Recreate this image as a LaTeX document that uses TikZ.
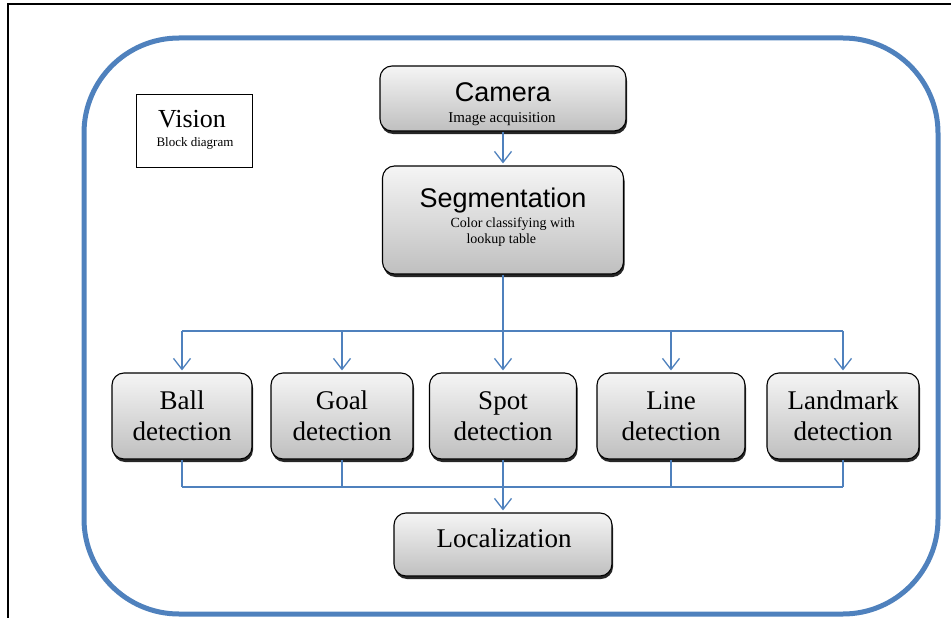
\documentclass[tikz,border=0pt]{standalone}
\usepackage{fontspec}
\setmainfont{Liberation Serif}
\newfontfamily\headfont{Liberation Sans}
\usetikzlibrary{arrows.meta,shadows}
\definecolor{frameblue}{RGB}{79,129,189}

\begin{document}
\begin{tikzpicture}[x=1pt,y=-1pt,
    block/.style ={rectangle, draw, line width=1.1pt, rounded corners=12pt, top color=gray!8, bottom color=gray!50,
      drop shadow={shadow xshift=1pt,shadow yshift=-3pt,fill=black,opacity=0.85},
      inner sep=0pt, align=center, font=\fontsize{27}{31}\selectfont},
    link/.style ={frameblue, line width=1.3pt},
    arr/.style ={link, shorten >=2pt, -{Straight Barb[length=11pt,width=17pt]}}]
   \useasboundingbox (0,0) rectangle (951,618);
   % page frame and outer border
   \draw[line width=1.5pt] (8,630) -- (8,4) -- (960,4);
   \draw[frameblue, line width=5pt, rounded corners=95pt] (84,38) rectangle (938,614);
   % title
   \node[draw, line width=0.8pt, minimum width=116pt, minimum height=73pt] (title) at (194,130.5) {};
   \node[anchor=base, font=\fontsize{26}{30}\selectfont] (vision) at (192,127) {Vision};
   \node[anchor=base, font=\fontsize{13}{15}\selectfont] (blockdiag) at (195,146) {Block diagram};
   % camera and segmentation
   \node[block, minimum width=246pt, minimum height=65pt] (cam) at (503,98.5) {};
   \node[anchor=base, font=\headfont\fontsize{27}{31}\selectfont] (camtext) at (503,101) {Camera};
   \node[anchor=base, font=\fontsize{15}{17}\selectfont] (camsub) at (502,122) {Image acquisition};
   \node[block, minimum width=241pt, minimum height=108pt] (seg) at (503,220) {};
   \node[anchor=base, font=\headfont\fontsize{27}{31}\selectfont] (segtext) at (503,207) {Segmentation};
   \node[anchor=base west, font=\fontsize{14}{16}\selectfont] (segsub) at (447,227) {Color classifying with};
   \node[anchor=base west, font=\fontsize{14}{16}\selectfont] (segsubb) at (463,243) {lookup table};
   % detectors
   \node[block, minimum width=140pt, minimum height=86pt] (ball) at (182,416) {Ball\\detection};
   \node[block, minimum width=142pt, minimum height=86pt] (goal) at (342,416) {Goal\\detection};
   \node[block, minimum width=147pt, minimum height=86pt] (spot) at (503,416) {Spot\\detection};
   \node[block, minimum width=148pt, minimum height=86pt] (line) at (671,416) {Line\\detection};
   \node[block, minimum width=152pt, minimum height=86pt] (land) at (843,416) {Landmark\\detection};
   % localization
   \node[block, minimum width=218pt, minimum height=63pt] (loc) at (503,544.5) {};
   \node[anchor=base, font=\fontsize{27}{31}\selectfont] (loctext) at (504,547) {Localization};
   % connectors
   \coordinate (split) at (503,331);
   \coordinate (merge) at (503,487);
   \draw[arr] (cam.south) -- (seg.north);
   \draw[link] (seg.south) -- (split);
   \draw[link] (split -| ball) -- (split -| land);
   \foreach \n in {ball,goal,spot,line,land}
      \draw[arr] (split -| \n) -- (\n.north);
   \foreach \n in {ball,goal,spot,line,land}
      \draw[link] (\n.south) -- (merge -| \n);
   \draw[link] (merge -| ball) -- (merge -| land);
   \draw[arr] (merge) -- (loc.north);
 \end{tikzpicture}
\end{document}
